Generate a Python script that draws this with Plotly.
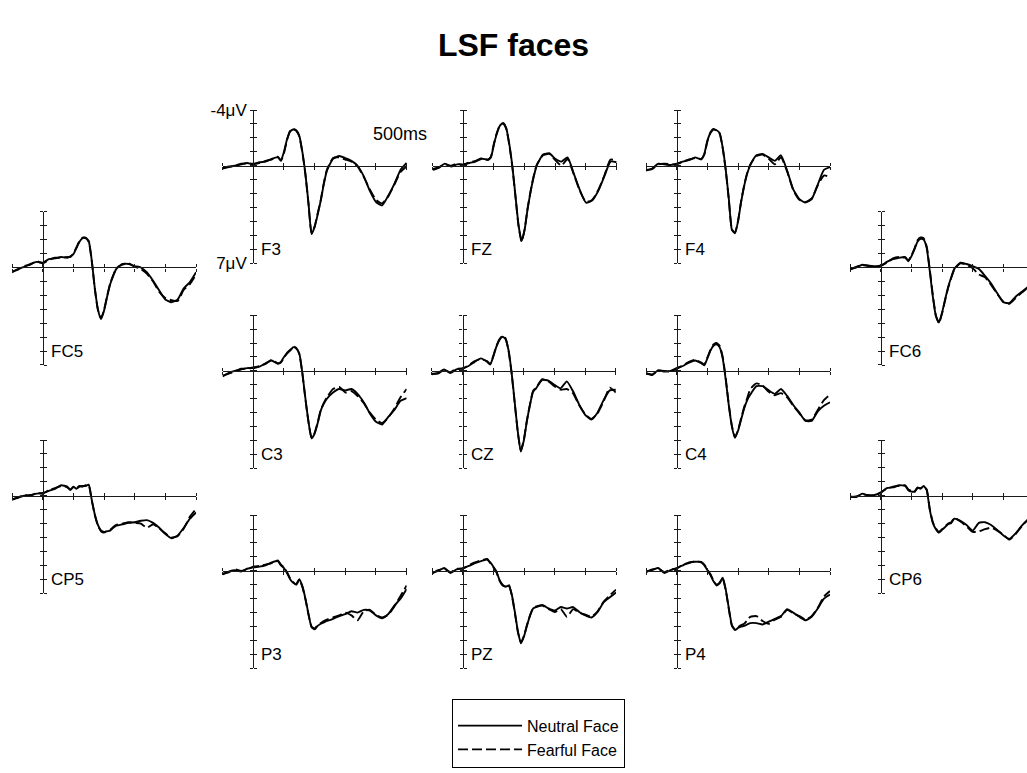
import plotly.graph_objects as go

# Sampling times (ms) shared by every channel
TIME_MS = [-100, -80, -60, -40, -20, 0, 20, 40, 60, 80, 90, 100, 110, 120, 130, 140,
           150, 160, 170, 180, 190, 200, 210, 220, 230, 240, 260, 280, 300, 320, 340,
           360, 380, 400, 420, 440, 460, 480, 500]

# Grand-average ERP amplitudes (µV), neutral vs fearful faces
F3_NEUTRAL = [0.15, 0.05, 0.0, -0.1, -0.2, -0.1, -0.25, -0.3, -0.5, -0.6, -0.4, -1.0, -1.9, -2.45, -2.6, -2.55,
              -2.15, -1.0, 0.6, 2.7, 4.9, 4.4, 3.5, 2.5, 1.3, 0.35, -0.5, -0.7, -0.55, -0.35, 0.0,
              0.75, 1.8, 2.6, 2.85, 2.15, 1.3, 0.3, -0.2]
F3_FEARFUL = [0.2, 0.1, 0.0, -0.15, -0.15, -0.15, -0.2, -0.35, -0.45, -0.65, -0.35, -0.9, -1.85, -2.5, -2.65, -2.5,
              -2.1, -0.95, 0.65, 2.75, 4.85, 4.35, 3.4, 2.45, 1.25, 0.3, -0.55, -0.6, -0.45, -0.3, 0.05,
              0.8, 1.7, 2.45, 2.7, 2.2, 1.35, 0.45, 0.05]

FZ_NEUTRAL = [0.3, 0.15, -0.15, 0.05, -0.1, -0.1, -0.2, -0.3, -0.5, -0.45, -0.6, -1.55, -2.35, -2.9, -3.05, -2.7,
              -1.55, 0.05, 2.15, 4.25, 5.4, 4.6, 3.05, 1.8, 0.75, -0.05, -0.8, -0.9, -0.5, -0.3, -0.6,
              0.55, 1.75, 2.65, 2.5, 1.8, 0.75, -0.3, -0.25]
FZ_FEARFUL = [0.25, 0.1, -0.1, 0.0, -0.15, -0.05, -0.25, -0.35, -0.55, -0.4, -0.65, -1.6, -2.4, -2.95, -3.05, -2.65,
              -1.5, 0.1, 2.2, 4.3, 5.45, 4.55, 3.0, 1.75, 0.7, -0.1, -0.75, -0.85, -0.4, 0.0, -0.5,
              0.6, 1.8, 2.6, 2.45, 1.75, 0.7, -0.45, -0.35]

F4_NEUTRAL = [0.35, 0.2, -0.15, -0.1, -0.05, -0.15, -0.3, -0.4, -0.6, -0.45, -0.85, -1.8, -2.35, -2.6, -2.55, -2.35,
              -1.3, 0.3, 2.4, 4.6, 4.85, 4.0, 2.6, 1.45, 0.55, -0.05, -0.75, -0.85, -0.6, -0.35, -0.75,
              0.35, 1.7, 2.4, 2.65, 2.4, 1.35, 0.3, 0.1]
F4_FEARFUL = [0.3, 0.25, -0.1, -0.15, -0.1, -0.1, -0.3, -0.45, -0.55, -0.5, -0.8, -1.75, -2.4, -2.65, -2.5, -2.3,
              -1.25, 0.35, 2.45, 4.55, 4.8, 3.95, 2.55, 1.4, 0.5, -0.1, -0.7, -0.8, -0.5, -0.1, -0.6,
              0.4, 1.75, 2.45, 2.6, 2.35, 1.4, 0.7, 0.8]

FC5_NEUTRAL = [0.35, 0.1, -0.05, -0.25, -0.4, -0.35, -0.6, -0.65, -0.75, -0.7, -0.8, -0.95, -1.4, -1.85, -2.1, -2.15,
               -1.9, -0.5, 1.5, 3.0, 3.7, 3.1, 2.1, 1.2, 0.6, 0.1, -0.25, -0.25, -0.1, 0.0, 0.35,
               0.95, 1.65, 2.3, 2.5, 2.3, 1.5, 1.05, 0.35]
FC5_FEARFUL = [0.3, 0.15, -0.1, -0.2, -0.45, -0.3, -0.55, -0.7, -0.7, -0.75, -0.75, -1.0, -1.45, -1.9, -2.15, -2.1,
               -1.85, -0.45, 1.55, 3.05, 3.65, 3.05, 2.05, 1.15, 0.55, 0.05, -0.2, -0.3, -0.05, 0.1, 0.45,
               1.0, 1.75, 2.2, 2.35, 2.4, 1.6, 1.2, 0.5]

FC6_NEUTRAL = [0.1, 0.0, -0.2, -0.1, -0.1, -0.1, -0.4, -0.6, -0.7, -0.75, -0.45, -0.8, -1.3, -1.85, -2.05, -2.0,
               -1.4, 0.25, 2.1, 3.5, 3.95, 3.25, 2.3, 1.4, 0.7, 0.1, -0.35, -0.25, -0.1, 0.1, 0.6,
               1.15, 1.85, 2.5, 2.55, 2.1, 1.75, 1.4, 1.0]
FC6_FEARFUL = [0.15, -0.05, -0.15, -0.15, -0.05, -0.15, -0.35, -0.65, -0.75, -0.7, -0.5, -0.85, -1.35, -1.95, -2.15, -2.1,
               -1.5, 0.15, 2.0, 3.45, 4.0, 3.3, 2.35, 1.45, 0.75, 0.15, -0.3, -0.2, 0.05, 0.5, 0.7,
               1.25, 1.9, 2.45, 2.6, 2.2, 1.8, 1.45, 1.1]

C3_NEUTRAL = [0.4, 0.15, 0.0, -0.1, -0.2, -0.2, -0.3, -0.55, -0.75, -0.5, -0.65, -1.0, -1.25, -1.45, -1.7, -1.6,
              -1.25, 0.15, 2.0, 3.65, 4.85, 4.5, 3.75, 2.85, 2.35, 2.0, 1.55, 1.3, 1.4, 1.3, 1.65,
              2.25, 3.05, 3.65, 3.85, 3.3, 2.8, 2.15, 1.95]
C3_FEARFUL = [0.35, 0.2, 0.05, -0.15, -0.15, -0.25, -0.35, -0.5, -0.8, -0.55, -0.6, -0.95, -1.3, -1.5, -1.75, -1.65,
              -1.2, 0.2, 2.05, 3.7, 4.8, 4.45, 3.7, 2.8, 2.3, 1.9, 1.3, 1.15, 1.55, 1.45, 1.8,
              2.3, 3.0, 3.5, 3.75, 3.35, 2.7, 1.9, 1.3]

CZ_NEUTRAL = [0.25, 0.15, -0.1, 0.15, -0.1, -0.2, -0.35, -0.65, -0.9, -0.65, -0.45, -1.0, -1.7, -2.2, -2.45, -2.3,
              -1.5, 0.1, 2.2, 4.3, 5.8, 5.0, 3.6, 2.45, 1.5, 1.25, 0.65, 0.7, 1.0, 1.25, 0.75,
              1.45, 2.4, 3.15, 3.5, 3.0, 2.1, 1.4, 1.35]
CZ_FEARFUL = [0.2, 0.2, -0.05, 0.1, -0.15, -0.15, -0.4, -0.7, -0.85, -0.7, -0.5, -1.05, -1.75, -2.25, -2.5, -2.35,
              -1.45, 0.15, 2.25, 4.35, 5.7, 4.95, 3.55, 2.4, 1.45, 1.2, 0.6, 0.75, 1.1, 1.35, 1.3,
              1.6, 2.45, 3.1, 3.45, 3.05, 2.2, 1.2, 1.55]

C4_NEUTRAL = [0.15, 0.3, -0.05, 0.05, 0.0, -0.2, -0.35, -0.6, -0.75, -0.55, -0.4, -0.9, -1.45, -1.8, -1.9, -1.7,
              -0.9, 0.65, 2.5, 4.0, 4.8, 4.3, 3.5, 2.7, 2.1, 1.7, 1.1, 1.1, 1.4, 1.65, 1.3,
              1.8, 2.45, 3.0, 3.6, 3.6, 2.9, 2.5, 2.25]
C4_FEARFUL = [0.2, 0.25, 0.0, 0.0, 0.05, -0.15, -0.4, -0.65, -0.8, -0.6, -0.45, -0.95, -1.5, -1.9, -2.0, -1.8,
              -1.0, 0.55, 2.45, 3.95, 4.75, 4.25, 3.4, 2.6, 1.95, 1.3, 0.9, 1.05, 1.5, 1.75, 1.6,
              1.9, 2.5, 3.05, 3.55, 3.5, 2.8, 2.1, 1.7]

CP5_NEUTRAL = [0.3, 0.1, 0.0, -0.05, -0.15, -0.2, -0.35, -0.5, -0.75, -0.65, -0.4, -0.65, -0.5, -0.65, -0.7, -0.7,
               -0.8, 0.3, 1.35, 2.1, 2.5, 2.6, 2.55, 2.5, 2.3, 2.15, 2.05, 1.95, 1.9, 1.8, 1.75,
               1.95, 2.3, 2.75, 3.05, 2.85, 2.3, 1.65, 1.2]
CP5_FEARFUL = [0.25, 0.15, -0.05, 0.0, -0.2, -0.15, -0.4, -0.55, -0.7, -0.6, -0.45, -0.6, -0.55, -0.7, -0.65, -0.75,
               -0.75, 0.35, 1.4, 2.15, 2.55, 2.65, 2.5, 2.45, 2.25, 2.1, 2.0, 1.9, 1.95, 2.0, 2.3,
               2.05, 2.35, 2.7, 3.0, 2.9, 2.35, 1.5, 0.95]

CP6_NEUTRAL = [0.05, 0.1, -0.15, 0.0, -0.05, -0.2, -0.55, -0.6, -0.75, -0.7, -0.4, -0.3, -0.3, -0.6, -0.5, -0.7,
               -0.4, 1.0, 1.95, 2.4, 2.65, 2.45, 2.25, 2.05, 1.95, 1.65, 1.8, 2.1, 2.5, 1.95, 1.9,
               2.1, 2.45, 2.85, 3.1, 2.7, 2.15, 1.75, 1.5]
CP6_FEARFUL = [0.1, 0.05, -0.1, -0.05, 0.0, -0.25, -0.5, -0.65, -0.7, -0.75, -0.45, -0.35, -0.25, -0.55, -0.55, -0.65,
               -0.45, 0.95, 1.9, 2.35, 2.6, 2.4, 2.2, 2.0, 1.9, 1.6, 1.85, 2.2, 2.6, 2.55, 2.4,
               2.3, 2.5, 2.8, 3.15, 2.75, 2.2, 1.7, 1.45]

P3_NEUTRAL = [0.25, 0.05, -0.05, 0.05, -0.15, -0.25, -0.3, -0.4, -0.6, -0.7, -0.4, -0.2, 0.15, 0.6, 0.85, 0.95,
              0.6, 1.1, 2.0, 3.1, 4.05, 4.2, 3.95, 3.8, 3.7, 3.6, 3.45, 3.25, 3.1, 2.9, 3.0,
              2.8, 2.85, 3.2, 3.4, 3.1, 2.5, 2.0, 1.3]
P3_FEARFUL = [0.2, 0.1, -0.1, 0.0, -0.1, -0.3, -0.35, -0.45, -0.55, -0.75, -0.45, -0.25, 0.1, 0.55, 0.8, 1.0,
              0.65, 1.15, 2.05, 3.15, 4.0, 4.15, 3.9, 3.75, 3.6, 3.5, 3.35, 3.2, 3.0, 3.2, 3.55,
              2.9, 2.8, 3.15, 3.35, 3.15, 2.55, 1.8, 1.05]

PZ_NEUTRAL = [0.15, 0.0, -0.2, 0.15, -0.1, -0.2, -0.35, -0.55, -0.7, -0.8, -0.6, -0.3, 0.05, 0.65, 1.0, 1.15,
              1.05, 1.7, 2.95, 4.35, 5.2, 4.7, 3.9, 3.2, 2.7, 2.6, 2.45, 2.7, 2.85, 2.6, 2.7,
              2.6, 2.95, 3.2, 3.35, 2.95, 2.25, 1.9, 1.55]
PZ_FEARFUL = [0.2, -0.05, -0.15, 0.1, -0.15, -0.15, -0.4, -0.6, -0.75, -0.85, -0.55, -0.25, 0.1, 0.7, 1.05, 1.1,
              1.0, 1.75, 3.0, 4.4, 5.15, 4.65, 3.85, 3.15, 2.65, 2.55, 2.5, 2.75, 2.95, 2.75, 3.3,
              2.75, 3.0, 3.15, 3.3, 2.9, 2.2, 1.75, 1.35]

P4_NEUTRAL = [0.05, -0.05, -0.2, 0.15, -0.05, -0.2, -0.4, -0.6, -0.65, -0.65, -0.4, -0.05, 0.3, 0.75, 1.0, 0.85,
              0.5, 1.35, 2.7, 3.9, 4.25, 4.1, 4.0, 3.95, 3.85, 3.75, 3.75, 3.85, 3.65, 3.45, 3.25,
              2.75, 3.0, 3.3, 3.55, 3.3, 2.7, 2.0, 1.7]
P4_FEARFUL = [0.1, -0.1, -0.15, 0.1, -0.1, -0.15, -0.45, -0.55, -0.7, -0.6, -0.45, -0.1, 0.25, 0.7, 1.05, 0.9,
              0.55, 1.4, 2.75, 3.95, 4.2, 4.05, 3.9, 3.8, 3.55, 3.3, 3.25, 3.6, 3.8, 3.5, 3.3,
              2.8, 3.05, 3.25, 3.5, 3.25, 2.65, 1.85, 1.45]

CHANNELS = ["F3", "FZ", "F4", "FC5", "FC6", "C3", "CZ", "C4", "CP5", "CP6", "P3", "PZ", "P4"]
NEUTRAL = {"F3": F3_NEUTRAL, "FZ": FZ_NEUTRAL, "F4": F4_NEUTRAL, "FC5": FC5_NEUTRAL, "FC6": FC6_NEUTRAL,
           "C3": C3_NEUTRAL, "CZ": CZ_NEUTRAL, "C4": C4_NEUTRAL, "CP5": CP5_NEUTRAL, "CP6": CP6_NEUTRAL,
           "P3": P3_NEUTRAL, "PZ": PZ_NEUTRAL, "P4": P4_NEUTRAL}
FEARFUL = {"F3": F3_FEARFUL, "FZ": FZ_FEARFUL, "F4": F4_FEARFUL, "FC5": FC5_FEARFUL, "FC6": FC6_FEARFUL,
           "C3": C3_FEARFUL, "CZ": CZ_FEARFUL, "C4": C4_FEARFUL, "CP5": CP5_FEARFUL, "CP6": CP6_FEARFUL,
           "P3": P3_FEARFUL, "PZ": PZ_FEARFUL, "P4": P4_FEARFUL}

X_TICKS_MS = [-100, 0, 100, 200, 300, 400, 500]
Y_TICKS_UV = [-4, -3, -2, -1, 0, 1, 2, 3, 4, 5, 6, 7]

# ---- page geometry (pixels) ----
W, H = 1027, 773
PX_PER_MS = 0.3067
PX_PER_UV = 14.28
T_MIN, T_MAX = -100, 500
UV_TOP, UV_BOTTOM = -4, 7

# pixel location of each panel's origin (0 ms, 0 µV), scalp-map layout
PANEL_ORIGIN = {
    "F3": (253.3, 160.7), "FZ": (463.3, 160.7), "F4": (676.7, 160.7),
    "FC5": (42.7, 265.0), "FC6": (880.7, 265.0),
    "C3": (253.3, 371.0), "CZ": (462.5, 371.0), "C4": (676.7, 371.0),
    "CP5": (42.7, 499.0), "CP6": (880.7, 499.0),
    "P3": (253.3, 576.0), "PZ": (462.7, 576.0), "P4": (676.7, 576.0),
}

FONT = "Liberation Sans, Arial, Helvetica, sans-serif"
AXIS_COLOR = "#1a1a1a"
LABEL_SIZE = 17

fig = go.Figure()
layout_axes = {}
annotations = []

for i, ch in enumerate(CHANNELS, start=1):
    x0, y0 = PANEL_ORIGIN[ch]
    left = x0 + T_MIN * PX_PER_MS
    right = min(x0 + T_MAX * PX_PER_MS, W)
    t_right = (right - x0) / PX_PER_MS
    top = y0 + UV_TOP * PX_PER_UV
    bottom = y0 + UV_BOTTOM * PX_PER_UV

    sfx = "" if i == 1 else str(i)
    xref, yref = "x" + sfx, "y" + sfx

    fig.add_trace(go.Scatter(
        x=TIME_MS, y=NEUTRAL[ch], mode="lines", name="Neutral Face",
        legendgroup="neutral", showlegend=(i == 1),
        line=dict(color="black", width=1.9, shape="spline", smoothing=0.5),
        xaxis=xref, yaxis=yref, hoverinfo="skip"))
    fig.add_trace(go.Scatter(
        x=TIME_MS, y=FEARFUL[ch], mode="lines", name="Fearful Face",
        legendgroup="fearful", showlegend=(i == 1),
        line=dict(color="black", width=1.9, dash="10px,4px", shape="spline", smoothing=0.5),
        xaxis=xref, yaxis=yref, hoverinfo="skip"))

    is_labelled = (ch == "F3")
    layout_axes["xaxis" + sfx] = dict(
        domain=[left / W, right / W], range=[T_MIN, t_right],
        anchor="free", position=1 - y0 / H,
        showline=True, linecolor=AXIS_COLOR, linewidth=1.3,
        showgrid=False, zeroline=False, showticklabels=False,
        tickmode="array", tickvals=X_TICKS_MS,
        ticks="outside", ticklen=3, tickwidth=1.3, tickcolor=AXIS_COLOR,
        minor=dict(tickmode="array", tickvals=[v + 0.01 for v in X_TICKS_MS],
                   ticks="inside", ticklen=3, tickwidth=1.3, tickcolor=AXIS_COLOR),
        fixedrange=True,
    )
    layout_axes["yaxis" + sfx] = dict(
        domain=[1 - bottom / H, 1 - top / H], range=[UV_BOTTOM, UV_TOP],
        anchor="free", position=x0 / W,
        showline=True, linecolor=AXIS_COLOR, linewidth=1.3,
        showgrid=False, zeroline=False,
        tickmode="array", tickvals=Y_TICKS_UV,
        ticktext=[("-4μV" if v == -4 else "7μV" if v == 7 else "") for v in Y_TICKS_UV] if is_labelled else None,
        showticklabels=is_labelled,
        tickfont=dict(family=FONT, size=LABEL_SIZE, color="black"),
        ticks="outside", ticklen=3, tickwidth=1.3, tickcolor=AXIS_COLOR,
        minor=dict(tickmode="array", tickvals=[v + 0.001 for v in Y_TICKS_UV],
                   ticks="inside", ticklen=3, tickwidth=1.3, tickcolor=AXIS_COLOR),
        fixedrange=True,
    )

    # electrode name beside the lower end of the voltage axis
    annotations.append(dict(
        text=ch, xref=xref, yref=yref, x=20, y=6.0,
        xanchor="left", yanchor="middle", showarrow=False,
        font=dict(family=FONT, size=LABEL_SIZE, color="black")))

# time-scale note next to the first frontal panel
annotations.append(dict(
    text="500ms", xref="x", yref="y", x=385, y=-2.3,
    xanchor="left", yanchor="middle", showarrow=False,
    font=dict(family=FONT, size=LABEL_SIZE + 1, color="black")))

fig.update_layout(
    width=W, height=H, autosize=False,
    margin=dict(l=0, r=0, t=0, b=0),
    paper_bgcolor="white", plot_bgcolor="rgba(0,0,0,0)",
    title=dict(text="LSF faces", x=0.5, xanchor="center", xref="container",
               y=1 - 45 / H, yanchor="middle", yref="container",
               font=dict(family=FONT, size=32, color="black", weight="bold")),
    legend=dict(x=452 / W, y=1 - 707 / H, xanchor="left", yanchor="top",
                bgcolor="white", bordercolor="black", borderwidth=1,
                font=dict(family=FONT, size=16, color="black"),
                title=dict(text=" ", font=dict(family=FONT, size=7)),
                itemwidth=64, tracegroupgap=0),
    annotations=annotations,
    showlegend=True,
    **layout_axes,
)

fig.write_html("out.html")
